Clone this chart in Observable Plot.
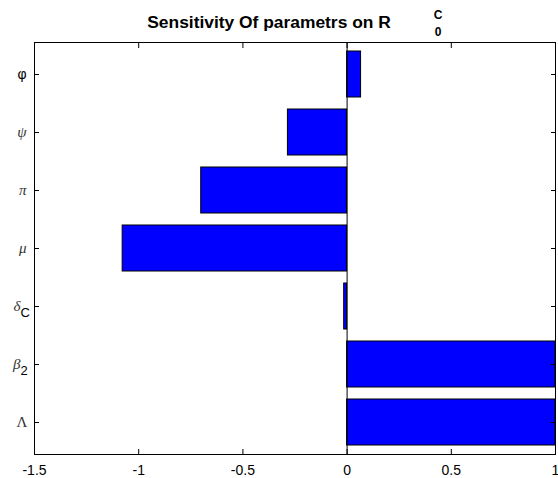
<!DOCTYPE html>
<html><head><meta charset="utf-8">
<script src="https://cdn.jsdelivr.net/npm/d3@7"></script>
<script src="https://cdn.jsdelivr.net/npm/@observablehq/plot@0.6"></script>
<style>body{margin:0;background:#fff} svg{display:block}</style>
</head><body><div id="chart"></div>
<script>
// categories, top to bottom
const keys = ["phi", "psi", "pi", "mu", "deltaC", "beta2", "Lambda"];
const glyphs = ["φ", "ψ", "π", "μ", "δ", "β", "Λ"];
const subs = ["", "", "", "", "C", "2", ""];
// sensitivity indices
const values = [0.067, -0.284, -0.70, -1.077, -0.014, 1, 1];
const xTicks = [-1.5, -1, -0.5, 0, 0.5, 1];
const titleText = "Sensitivity Of parametrs on R";
const titleSup = "C";
const titleSub = "0";

const data = keys.map((k, i) => ({key: k, glyph: glyphs[i], sub: subs[i], value: values[i]}));
const serif = "'Liberation Serif', 'DejaVu Serif', serif";
const sans = "'Liberation Sans', Arial, sans-serif";

const plot = Plot.plot({
  width: 558, height: 478,
  marginTop: 42, marginBottom: 24, marginLeft: 34, marginRight: 3,
  style: {fontFamily: sans, fontSize: "13px", color: "black", background: "white"},
  x: {domain: [-1.5, 1]},
  y: {domain: keys, paddingInner: 0.2, paddingOuter: 0.1},
  marks: [
    Plot.barX(data, {x1: 0, x2: "value", y: "key", fill: "#0000ff", stroke: "black", strokeWidth: 1}),
    Plot.ruleX([0], {stroke: "black"}),
    Plot.frame({stroke: "black"}),
    Plot.axisX(xTicks, {anchor: "bottom", tickSize: -5, tickPadding: 16, tickFormat: d => String(d), label: null, fontSize: 14}),
    Plot.axisX(xTicks, {anchor: "top", tickSize: -5, tickFormat: () => "", label: null}),
    Plot.axisY({anchor: "left", tickSize: -5, tickFormat: () => "", label: null}),
    Plot.axisY({anchor: "right", tickSize: -5, tickFormat: () => "", label: null}),
    // y labels
    Plot.text(data, {filter: d => d.key === "phi", y: "key", text: "glyph", frameAnchor: "left", textAnchor: "end", dx: -8, fontFamily: sans, fontSize: 14, fill: "black"}),
    Plot.text(data, {filter: d => d.sub === "" && d.key !== "phi" && d.key !== "Lambda", y: "key", text: "glyph", frameAnchor: "left", textAnchor: "end", dx: -8, fontFamily: serif, fontStyle: "italic", fontSize: 15, fill: "#333"}),
    Plot.text(data, {filter: d => d.key === "Lambda", y: "key", text: "glyph", frameAnchor: "left", textAnchor: "end", dx: -7, fontFamily: serif, fontSize: 15, fill: "#333"}),
    Plot.text(data, {filter: d => d.sub !== "", y: "key", text: "glyph", frameAnchor: "left", textAnchor: "end", dx: -14, fontFamily: serif, fontStyle: "italic", fontSize: 15, fill: "#333"}),
    Plot.text(data, {filter: d => d.sub !== "", y: "key", text: "sub", frameAnchor: "left", textAnchor: "start", dx: -14, dy: 6, fontFamily: sans, fontSize: 13, fill: "black"}),
    // title
    Plot.text([titleText], {frameAnchor: "top", text: d => d, lineAnchor: "bottom", textAnchor: "middle", dx: -26, dy: -15, fontSize: 17.4, fontWeight: "bold", fill: "black"}),
    Plot.text([titleSup], {frameAnchor: "top", text: d => d, lineAnchor: "bottom", textAnchor: "middle", dx: 143, dy: -24, fontSize: 12, fontWeight: "bold", fill: "black"}),
    Plot.text([titleSub], {frameAnchor: "top", text: d => d, lineAnchor: "bottom", textAnchor: "middle", dx: 143, dy: -7, fontSize: 12, fontWeight: "bold", fill: "black"})
  ]
});
document.getElementById("chart").append(plot);
</script>
</body></html>
